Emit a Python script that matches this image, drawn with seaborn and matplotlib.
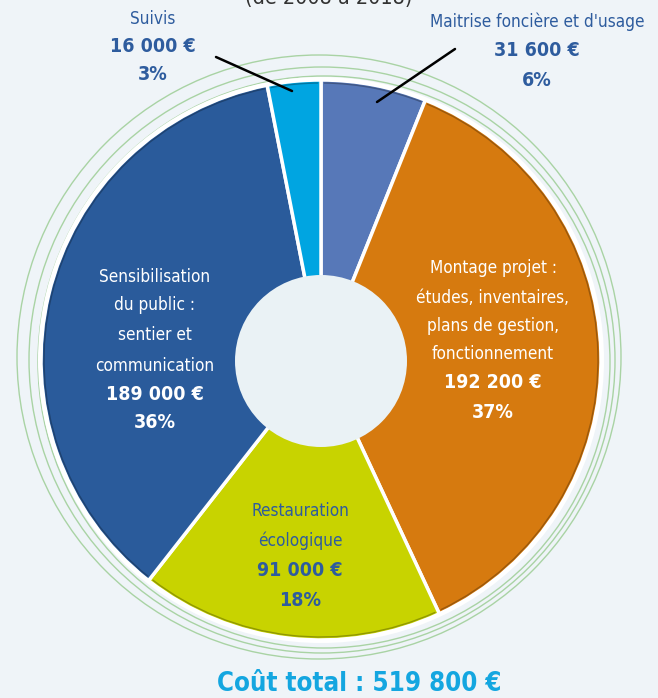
import matplotlib
matplotlib.use("Agg")
import matplotlib.pyplot as plt
from matplotlib.patches import Circle, Arc
import matplotlib.colors as mcolors
import seaborn as sns

# ---- data ----
categories = ["Maitrise foncière et d'usage",
              "Montage projet : études, inventaires, plans de gestion, fonctionnement",
              "Restauration écologique",
              "Sensibilisation du public : sentier et communication",
              "Suivis"]
amounts = [31600, 192200, 91000, 189000, 16000]
amount_labels = ["31 600 €", "192 200 €", "91 000 €", "189 000 €", "16 000 €"]
pct_labels = ["6%", "37%", "18%", "36%", "3%"]
colors = ["#5778B8", "#D67A0F", "#C8D300", "#2A5B9B", "#00A5E1"]
total_label = "Coût total : 519 800 €"
title_label = "(de 2008 à 2018)"

sns.set_style("white")
plt.rcParams['font.family'] = ['DejaVu Sans']
plt.rcParams['font.stretch'] = 'condensed'

W, H = 658, 698
fig = plt.figure(figsize=(W / 100, H / 100), dpi=100)
bg = "#EFF4F8"
fig.patch.set_facecolor(bg)
ax = fig.add_axes([0, 0, 1, 1])
ax.set_facecolor(bg)

def Y(y):
    return H - y

cx, cy, R = 321, 360, 280

for (rx, ry, rr) in [(319, 357, 302), (322, 360, 293), (324, 362, 286)]:
    ax.add_patch(Circle((rx, Y(ry)), rr, fill=False, edgecolor="#A9D3A4", lw=1.0, zorder=1))

ax.add_patch(Circle((cx, Y(cy)), R + 3, facecolor="white", edgecolor="none", zorder=2))

wedges, _ = ax.pie(amounts, colors=colors, startangle=90, counterclock=False,
                   center=(cx, Y(cy)), radius=R, frame=True,
                   wedgeprops=dict(edgecolor="white", linewidth=2.5))
for w, c in zip(wedges, colors):
    w.set_zorder(3)
    dark = tuple(v * 0.72 for v in mcolors.to_rgb(c))
    ax.add_patch(Arc((cx, Y(cy)), 2 * (R - 3), 2 * (R - 3), theta1=w.theta1 + 0.6,
                     theta2=w.theta2 - 0.6, color=dark, lw=1.0, zorder=4))
ax.set_xlim(0, W)
ax.set_ylim(0, H)
ax.axis("off")

ax.add_patch(Circle((321, Y(361)), 86, facecolor="#EAF2F5", edgecolor="none", zorder=5))

blue = "#2E5C9E"
fs = 12.3
fsb = 14

def block(x, ys, lines, bolds, color):
    for y, t, b in zip(ys, lines, bolds):
        ax.text(x, Y(y), t, ha="center", va="center", fontsize=fsb if b else fs, color=color,
                fontweight="bold" if b else "normal", fontstretch="condensed", zorder=6)

block(153, [19, 46, 74], ["Suivis", amount_labels[4], pct_labels[4]], [False, True, True], blue)
block(537, [22, 51, 80], ["Maitrise foncière et d'usage", amount_labels[0], pct_labels[0]],
      [False, True, True], blue)

ax.plot([216, 292], [Y(57), Y(91)], color="black", lw=1.8, zorder=6)
ax.plot([455, 377], [Y(49), Y(102)], color="black", lw=1.8, zorder=6)

block(493, [268, 298, 326, 354, 383, 412],
      ["Montage projet :", "études, inventaires,", "plans de gestion,", "fonctionnement",
       amount_labels[1], pct_labels[1]], [False] * 4 + [True, True], "white")
block(155, [277, 305, 335, 366, 394, 422],
      ["Sensibilisation", "du public :", "sentier et", "communication",
       amount_labels[3], pct_labels[3]], [False] * 4 + [True, True], "white")
block(300, [511, 541, 571, 600],
      ["Restauration", "écologique", amount_labels[2], pct_labels[2]],
      [False, False, True, True], blue)

ax.text(359, Y(684), total_label, ha="center", va="center", fontsize=18.5,
        fontweight="bold", fontstretch="condensed", color="#14A6E0", zorder=6)
ax.text(329, Y(-2), title_label, ha="center", va="center", fontsize=15.5,
        fontstretch="condensed", color="#333333", zorder=6)

fig.savefig("out.png", dpi=100, facecolor=bg)
